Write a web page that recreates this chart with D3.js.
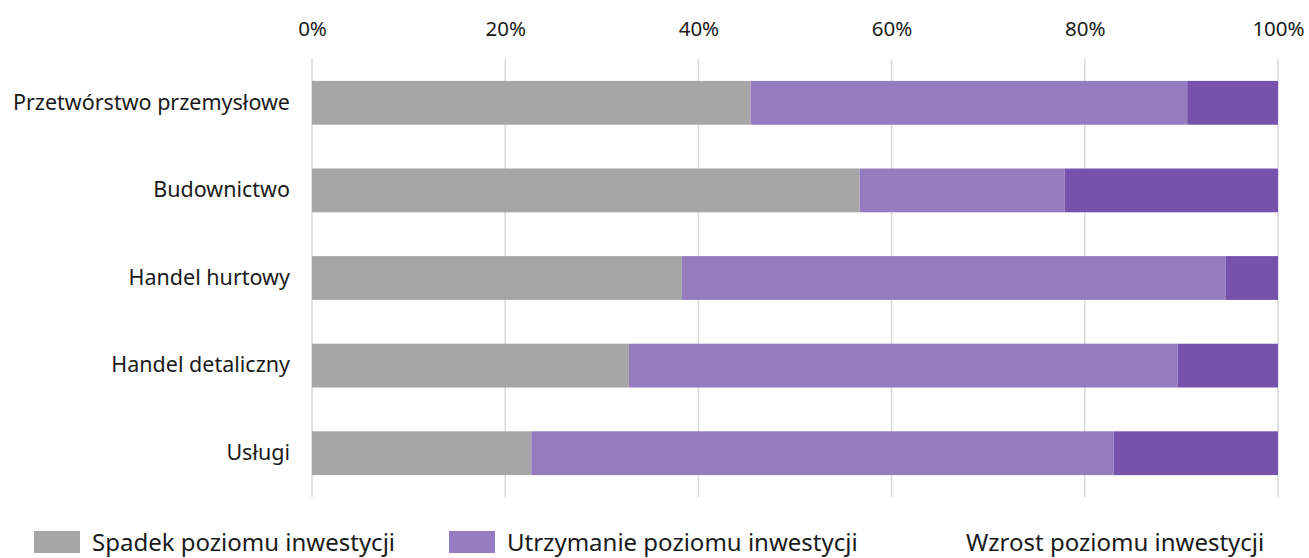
<!DOCTYPE html>
<html>
<head>
<meta charset="utf-8">
<script src="https://cdn.jsdelivr.net/npm/d3@7"></script>
<style>
  body { margin: 0; background: #fff; }
  text { font-family: "Noto Sans", sans-serif; fill: #1a1a1a; }
</style>
</head>
<body>
<div id="chart"></div>
<script>
// data
var categories = ["Przetwórstwo przemysłowe", "Budownictwo", "Handel hurtowy", "Handel detaliczny", "Usługi"]
var spadek = [45.4, 56.7, 38.3, 32.8, 22.7]
var utrzymanie = [45.2, 21.2, 56.3, 56.8, 60.3]
var wzrost = [9.4, 22.1, 5.4, 10.4, 17.0]
var seriesNames = ["Spadek poziomu inwestycji", "Utrzymanie poziomu inwestycji", "Wzrost poziomu inwestycji"]
var seriesColors = ["#a6a6a6", "#977bbf", "#7652ac"]
var legendSwatch = ["#a6a6a6", "#977bbf", "#ffffff"]
var ticks = [0, 20, 40, 60, 80, 100]

var W = 1309, H = 558
var svg = d3.select('#chart').append('svg').attr('width', W).attr('height', H)

var x = d3.scaleLinear().domain([0, 100]).range([312, 1278])
var y = d3.scaleBand().domain(categories).range([59, 497]).paddingInner(0.5).paddingOuter(0.25)

var rows = categories.map((c, i) => ({ cat: c, s0: spadek[i], s1: utrzymanie[i], s2: wzrost[i] }))
var stack = d3.stack().keys(["s0", "s1", "s2"])(rows)

// gridlines
svg.append('g').selectAll('line').data(ticks).enter().append('line')
  .attr('x1', d => x(d)).attr('x2', d => x(d))
  .attr('y1', 59).attr('y2', 497)
  .attr('stroke', '#d9d9d9').attr('stroke-width', 1.5)

// top axis
var axisX = d3.axisTop(x).tickValues(ticks).tickFormat(d => d + '%').tickSize(0).tickPadding(0)
var gx = svg.append('g').attr('transform', 'translate(0, 36)').call(axisX)
gx.select('.domain').remove()
gx.selectAll('text').style('font-size', '20.5px')

// bars
svg.append('g').selectAll('g').data(stack).enter().append('g')
  .attr('fill', (d, i) => seriesColors[i])
  .selectAll('rect').data(d => d).enter().append('rect')
  .attr('x', d => x(d[0]))
  .attr('width', d => x(d[1]) - x(d[0]))
  .attr('y', d => y(d.data.cat))
  .attr('height', y.bandwidth())

// category labels
var axisY = d3.axisLeft(y).tickSize(0).tickPadding(22)
var gy = svg.append('g').attr('transform', 'translate(312, 0)').call(axisY)
gy.select('.domain').remove()
gy.selectAll('text').style('font-size', '21.5px')

// legend
var legendX = [34, 449, 908]
var lg = svg.append('g').selectAll('g').data(seriesNames).enter().append('g')
  .attr('transform', (d, i) => 'translate(' + legendX[i] + ', 531)')
lg.append('rect').attr('width', 46).attr('height', 22).attr('fill', (d, i) => legendSwatch[i])
lg.append('text').attr('x', 58).attr('y', 20).style('font-size', '24px').text(d => d)
</script>
</body>
</html>
